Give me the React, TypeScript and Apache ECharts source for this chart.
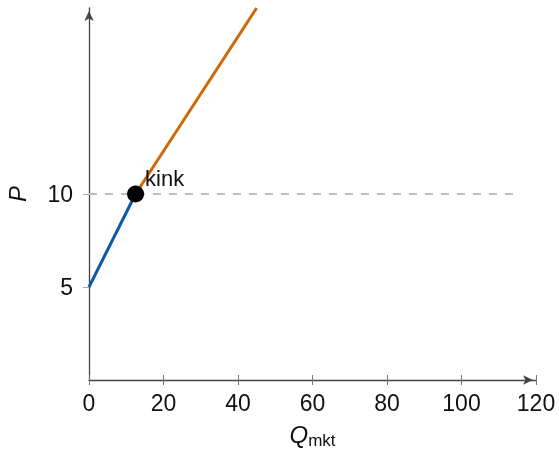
import React, { useEffect, useRef } from "react";
import * as echarts from "echarts";

const xTicks = [0, 20, 40, 60, 80, 100, 120];
const yTicks = [5, 10];
const lowerSegment: [number, number][] = [[0, 5], [12.5, 10]];
const upperSegment: [number, number][] = [[12.5, 10], [45, 20]];
const kinkPoint: [number, number][] = [[12.5, 10]];
const kinkLevel: [number, number][] = [[0, 10], [114, 10]];
const kinkLabel = "kink";

const FONT = "'Liberation Sans', sans-serif";

export default function App() {
  const ref = useRef<HTMLDivElement>(null);
  useEffect(() => {
    if (!ref.current) return;
    const chart = echarts.init(ref.current, undefined, { renderer: "svg" });
    chart.setOption({
      animation: false,
      grid: { left: 89, right: 23, top: 8, bottom: 76, outerBoundsMode: "none", containLabel: false },
      xAxis: [
        {
          type: "value",
          min: 0,
          max: 120,
          interval: 20,
          splitLine: { show: false },
          axisLine: {
            show: true,
            lineStyle: { color: "#444", width: 1.3 },
            symbol: ["none", "arrow"],
            symbolSize: [7, 10],
            symbolOffset: [0, -3],
          },
          axisTick: { show: true, length: 5, lineStyle: { color: "#777" }, customValues: xTicks },
          axisLabel: {
            customValues: xTicks,
            fontFamily: FONT,
            fontSize: 23,
            color: "#111",
            margin: 11,
          },
          name: "{q|Q}{s|mkt}",
          nameLocation: "middle",
          nameGap: 40,
          nameTextStyle: {
            rich: {
              q: { fontFamily: FONT, fontSize: 24, fontStyle: "italic", color: "#111" },
              s: { fontFamily: FONT, fontSize: 17, color: "#111", padding: [12, 0, 0, 0] },
            },
          },
        },
        {
          type: "value",
          min: 0,
          max: 120,
          interval: 20,
          position: "bottom",
          splitLine: { show: false },
          axisLine: { show: false },
          axisTick: { show: true, inside: true, length: 5, lineStyle: { color: "#777" }, customValues: xTicks },
          axisLabel: { show: false },
        },
      ],
      yAxis: {
        type: "value",
        min: 0,
        max: 20,
        interval: 5,
        splitLine: { show: false },
        axisLine: {
          show: true,
          lineStyle: { color: "#444", width: 1.3 },
          symbol: ["none", "arrow"],
          symbolSize: [7, 10],
          symbolOffset: [0, -3],
        },
        axisTick: { show: true, length: 6, lineStyle: { color: "#aaa" }, customValues: yTicks },
        axisLabel: {
          customValues: yTicks,
          fontFamily: FONT,
          fontSize: 23,
          color: "#111",
          margin: 16,
        },
        name: "P",
        nameLocation: "middle",
        nameGap: 60,
        nameTextStyle: { fontFamily: FONT, fontSize: 24, fontStyle: "italic", color: "#111" },
      },
      series: [
        {
          type: "line",
          data: kinkLevel,
          symbol: "none",
          lineStyle: { color: "#bdbdbd", width: 1.8, type: [8, 8] },
          z: 1,
        },
        {
          type: "line",
          data: lowerSegment,
          symbol: "none",
          lineStyle: { color: "#0a58a6", width: 3 },
          z: 2,
        },
        {
          type: "line",
          data: upperSegment,
          symbol: "none",
          lineStyle: { color: "#cc6a0a", width: 3 },
          z: 2,
        },
        {
          type: "scatter",
          data: kinkPoint,
          symbolSize: 17,
          itemStyle: { color: "#000", opacity: 1 },
          z: 3,
          label: {
            show: true,
            formatter: kinkLabel,
            position: "right",
            offset: [-4, -16],
            fontFamily: FONT,
            fontSize: 22,
            color: "#111",
          },
        },
      ],
    });
    return () => chart.dispose();
  }, []);
  return <div ref={ref} style={{ width: 559, height: 456, position: "fixed", left: 0, top: 0 }} />;
}
